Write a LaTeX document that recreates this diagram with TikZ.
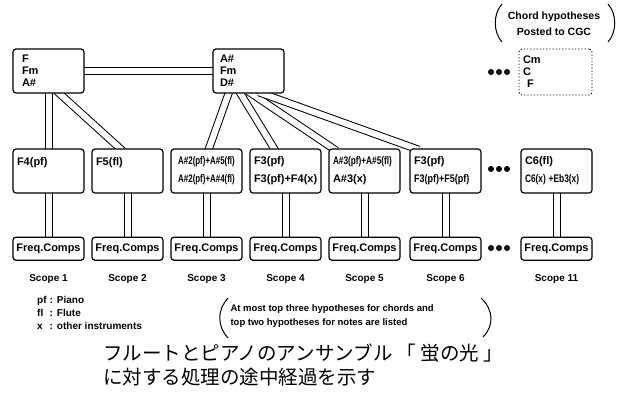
\documentclass[tikz,border=0pt]{standalone}
\usepackage{graphicx}
\usepackage{fontspec}
\setsansfont{Liberation Sans}
\newfontfamily\jpfont{Noto Sans CJK JP}
\usetikzlibrary{positioning,backgrounds}

\tikzset{
  chordbox/.style={draw, line width=1.2pt, rounded corners=3pt, fill=white, minimum width=71pt, minimum height=44pt, text width=61pt, inner xsep=5pt, align=left, font=\sffamily\bfseries\fontsize{11}{12}\selectfont},
  hypbox/.style={chordbox, inner xsep=4pt, text width=63pt, font=\sffamily\bfseries\fontsize{11}{18}\selectfont},
  freqbox/.style={draw, line width=1.2pt, rounded corners=3pt, fill=white, minimum width=71pt, minimum height=23pt, inner sep=1pt, font=\sffamily\bfseries\fontsize{11}{12}\selectfont},
  link/.style={double, double distance=6pt, line width=1pt, shorten >=-4pt, shorten <=-4pt},
  scopelabel/.style={font=\sffamily\bfseries\fontsize{10}{12}\selectfont},
  note/.style={align=left, font=\sffamily\bfseries\fontsize{9.5}{14}\selectfont},
  paren/.style={line width=1pt},
}
\newcommand{\narrowtxt}[2][0.75]{\scalebox{#1}[1]{#2}}

\begin{document}
\begin{tikzpicture}[x=1pt, y=-1pt]
    \useasboundingbox (0,0) rectangle (626,394);

    % chord hypotheses
    \node[chordbox, inner xsep=9pt, text width=53pt] (chA) at (48.5,71) {F\\Fm\\A\#};
    \node[chordbox, inner xsep=7pt, text width=57pt] (chB) at (248.5,71) {A\#\\Fm\\D\#};
    \node[chordbox, dotted, line width=0.9pt, minimum width=73pt, minimum height=46pt, inner xsep=4pt, text width=65pt] (chCGC) at (555.5,72) {Cm\\C\\\hspace*{4pt}F};

    % note hypotheses
    \node[hypbox] (hyp1) at (48.5,171) {F4(pf)\\~};
    \node[hypbox] (hyp2) at (127.5,171) {F5(fl)\\~};
    \node[hypbox, align=center] (hyp3) at (206.5,171) {\narrowtxt[0.72]{A\#2(pf)+A\#5(fl)}\\\narrowtxt[0.72]{A\#2(pf)+A\#4(fl)}};
    \node[hypbox] (hyp4) at (285.5,171) {F3(pf)\\F3(pf)+F4(x)};
    \node[hypbox] (hyp5) at (364.5,171) {\narrowtxt{A\#3(pf)+A\#5(fl)}\\A\#3(x)};
    \node[hypbox] (hyp6) at (445.5,171) {F3(pf)\\\narrowtxt[0.82]{F3(pf)+F5(pf)}};
    \node[hypbox] (hyp11) at (556.5,171) {C6(fl)\\\narrowtxt[0.76]{C6(x) +Eb3(x)}};

    % frequency components
    \node[freqbox, below=43pt of hyp1] (fc1) {Freq.Comps};
    \node[freqbox, below=43pt of hyp2] (fc2) {Freq.Comps};
    \node[freqbox, below=43pt of hyp3] (fc3) {Freq.Comps};
    \node[freqbox, below=43pt of hyp4] (fc4) {Freq.Comps};
    \node[freqbox, below=43pt of hyp5] (fc5) {Freq.Comps};
    \node[freqbox, below=43pt of hyp6] (fc6) {Freq.Comps};
    \node[freqbox, below=43pt of hyp11] (fc11) {Freq.Comps};

    \node[scopelabel, below=10pt of fc1] (sc1) {Scope 1};
    \node[scopelabel, below=10pt of fc2] (sc2) {Scope 2};
    \node[scopelabel, below=10pt of fc3] (sc3) {Scope 3};
    \node[scopelabel, below=10pt of fc4] (sc4) {Scope 4};
    \node[scopelabel, below=10pt of fc5] (sc5) {Scope 5};
    \node[scopelabel, below=10pt of fc6] (sc6) {Scope 6};
    \node[scopelabel, below=10pt of fc11] (sc11) {Scope 11};

    \begin{scope}[on background layer]
        \draw[link] (chA.east) -- (chB.west);
        \draw[link] (chA.south) -- (hyp1.north);
        \draw[link] ([xshift=11pt]chA.south) -- ([xshift=-7.5pt]hyp2.north);
        \draw[link] ([xshift=-20pt]chB.south) -- ([xshift=2.5pt]hyp3.north);
        \draw[link] ([xshift=-8pt]chB.south) -- ([xshift=-11.5pt]hyp4.north);
        \draw[link] ([xshift=3pt]chB.south) -- ([xshift=-31.5pt]hyp5.north);
        \draw[link] ([xshift=14pt]chB.south) -- ([xshift=-30.5pt]hyp6.north);
        \draw[link] (hyp1.south) -- (fc1.north);
        \draw[link] (hyp2.south) -- (fc2.north);
        \draw[link] (hyp3.south) -- (fc3.north);
        \draw[link] (hyp4.south) -- (fc4.north);
        \draw[link] (hyp5.south) -- (fc5.north);
        \draw[link] (hyp6.south) -- (fc6.north);
        \draw[link] (hyp11.south) -- (fc11.north);
    \end{scope}

    % omitted scopes
    \foreach \y in {72,169,248}
        \foreach \x in {491,499,507}
            \fill (\x,\y) circle (3pt);

    % annotations
    \node[scopelabel, align=center, font=\sffamily\bfseries\fontsize{10.5}{16}\selectfont] (cgcnote) at (554,24) {Chord hypotheses\\Posted to CGC};
    \draw[paren] (502,4) .. controls (493,14) and (493,32) .. (502,42);
    \draw[paren] (608,4) .. controls (617,14) and (617,32) .. (608,42);

    \node[anchor=west, inner sep=0pt, font=\sffamily\bfseries\fontsize{10}{13}\selectfont] (legend) at (37,314)
        {\begin{tabular}{@{}l@{\hspace{3pt}:\hspace{4pt}}l@{}}pf & Piano\\fl & Flute\\x & other instruments\end{tabular}};

    \node[note, anchor=west] (limitnote) at (227,316) {At most top three hypotheses for chords and\\top two hypotheses for notes are listed};
    \draw[paren] (228,298) .. controls (217,310) and (217,326) .. (228,338);
    \draw[paren] (481,298) .. controls (494,310) and (494,326) .. (483,337);

    \node[anchor=north west, inner sep=0pt, align=left, font=\jpfont\fontsize{19.5}{24}\selectfont] (caption) at (103,344)
        {フルートとピアノのアンサンブル 「 蛍の光 」\\に対する処理の途中経過を示す};
\end{tikzpicture}
\end{document}
